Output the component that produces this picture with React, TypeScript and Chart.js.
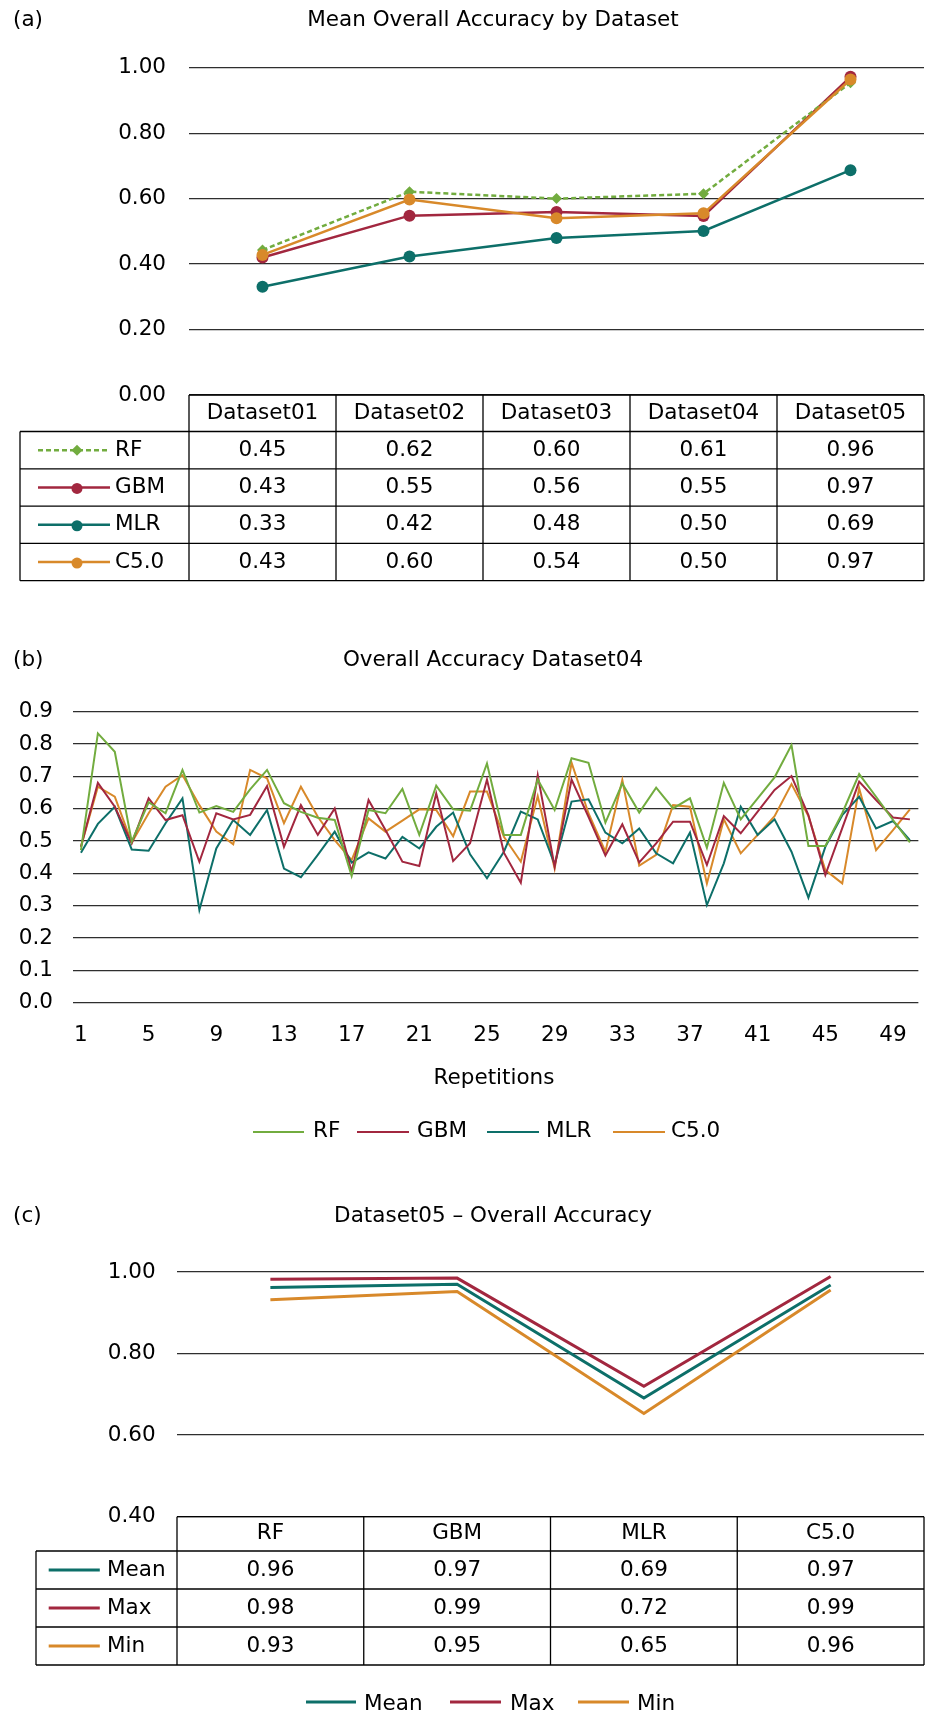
import React, { useEffect, useRef } from 'react';
import { Chart, registerables } from 'chart.js';
Chart.register(...registerables);

const FONT_FAMILY = '"DejaVu Sans", "Noto Sans", sans-serif';
const FS = 21.5;
const C_RF = '#72AC3F';
const C_GBM = '#A2273F';
const C_MLR = '#0D6F69';
const C_C50 = '#D8892A';
const GRID = '#2E2E2E';

// ---------- Panel (a) ----------
const datasetsA = ['Dataset01', 'Dataset02', 'Dataset03', 'Dataset04', 'Dataset05'];
const rfMeanA = [0.443, 0.621, 0.6, 0.615, 0.954];
const gbmMeanA = [0.42, 0.548, 0.559, 0.547, 0.972];
const mlrMeanA = [0.331, 0.423, 0.48, 0.501, 0.687];
const c50MeanA = [0.428, 0.597, 0.54, 0.555, 0.964];
const rfTableA = [0.45, 0.62, 0.6, 0.61, 0.96];
const gbmTableA = [0.43, 0.55, 0.56, 0.55, 0.97];
const mlrTableA = [0.33, 0.42, 0.48, 0.5, 0.69];
const c50TableA = [0.43, 0.6, 0.54, 0.5, 0.97];

// ---------- Panel (b) ----------
const reps = ['1','2','3','4','5','6','7','8','9','10','11','12','13','14','15','16','17','18','19','20','21','22','23','24','25','26','27','28','29','30','31','32','33','34','35','36','37','38','39','40','41','42','43','44','45','46','47','48','49','50'];
const rfRep = [0.472,0.833,0.776,0.498,0.62,0.586,0.72,0.588,0.608,0.59,0.66,0.72,0.617,0.59,0.572,0.565,0.392,0.596,0.586,0.661,0.519,0.671,0.598,0.594,0.74,0.519,0.519,0.69,0.596,0.756,0.742,0.557,0.678,0.588,0.665,0.601,0.632,0.479,0.68,0.567,0.632,0.697,0.797,0.485,0.485,0.586,0.707,0.637,0.565,0.496];
const gbmRep = [0.482,0.68,0.606,0.493,0.632,0.565,0.58,0.436,0.586,0.567,0.581,0.67,0.482,0.611,0.519,0.601,0.405,0.627,0.534,0.436,0.423,0.647,0.438,0.493,0.69,0.464,0.371,0.704,0.421,0.69,0.575,0.455,0.552,0.434,0.493,0.56,0.56,0.426,0.577,0.524,0.591,0.658,0.701,0.58,0.395,0.54,0.684,0.627,0.573,0.567];
const mlrRep = [0.464,0.553,0.606,0.474,0.47,0.555,0.632,0.287,0.477,0.565,0.519,0.596,0.415,0.388,0.457,0.529,0.433,0.465,0.446,0.513,0.477,0.544,0.588,0.459,0.385,0.467,0.591,0.567,0.428,0.622,0.629,0.526,0.493,0.539,0.462,0.431,0.526,0.302,0.431,0.606,0.519,0.567,0.467,0.325,0.482,0.58,0.637,0.539,0.562,0.503];
const c50Rep = [0.482,0.668,0.637,0.495,0.586,0.668,0.704,0.611,0.529,0.49,0.72,0.694,0.555,0.668,0.575,0.503,0.441,0.57,0.529,0.563,0.598,0.596,0.515,0.653,0.653,0.513,0.436,0.639,0.415,0.742,0.586,0.467,0.689,0.424,0.457,0.611,0.606,0.369,0.567,0.462,0.519,0.577,0.676,0.577,0.41,0.369,0.663,0.472,0.534,0.598];

// ---------- Panel (c) ----------
const modelsC = ['RF', 'GBM', 'MLR', 'C5.0'];
const meanC = [0.962, 0.97, 0.691, 0.968];
const maxC = [0.982, 0.985, 0.72, 0.989];
const minC = [0.932, 0.952, 0.653, 0.956];
const meanTableC = [0.96, 0.97, 0.69, 0.97];
const maxTableC = [0.98, 0.99, 0.72, 0.99];
const minTableC = [0.93, 0.95, 0.65, 0.96];

function font(size = FS) {
  return `${size}px ${FONT_FAMILY}`;
}

function text(ctx: CanvasRenderingContext2D, s: string, x: number, y: number, align: CanvasTextAlign = 'center', baseline: CanvasTextBaseline = 'middle') {
  ctx.save();
  ctx.fillStyle = '#000';
  ctx.font = font();
  ctx.textAlign = align;
  ctx.textBaseline = baseline;
  ctx.fillText(s, x, y);
  ctx.restore();
}

function line(ctx: CanvasRenderingContext2D, x1: number, y1: number, x2: number, y2: number, color = '#000', w = 1.3, dash: number[] = []) {
  ctx.save();
  ctx.strokeStyle = color;
  ctx.lineWidth = w;
  ctx.setLineDash(dash);
  ctx.beginPath();
  ctx.moveTo(x1, y1);
  ctx.lineTo(x2, y2);
  ctx.stroke();
  ctx.restore();
}

function circle(ctx: CanvasRenderingContext2D, x: number, y: number, r: number, color: string) {
  ctx.save();
  ctx.fillStyle = color;
  ctx.beginPath();
  ctx.arc(x, y, r, 0, Math.PI * 2);
  ctx.fill();
  ctx.restore();
}

function diamond(ctx: CanvasRenderingContext2D, x: number, y: number, r: number, color: string) {
  ctx.save();
  ctx.fillStyle = color;
  ctx.beginPath();
  ctx.moveTo(x, y - r);
  ctx.lineTo(x + r, y);
  ctx.lineTo(x, y + r);
  ctx.lineTo(x - r, y);
  ctx.closePath();
  ctx.fill();
  ctx.restore();
}

const baseTicks = { color: '#000', font: { family: FONT_FAMILY, size: FS } };

function ChartA() {
  const ref = useRef<HTMLCanvasElement>(null);
  useEffect(() => {
    const tablePlugin = {
      id: 'tableA',
      afterDraw(chart: any) {
        const ctx = chart.ctx as CanvasRenderingContext2D;
        const ca = chart.chartArea;
        const xs = chart.scales.x;
        text(ctx, '(a)', 13, 26, 'left', 'alphabetic');
        text(ctx, 'Mean Overall Accuracy by Dataset', 493, 26, 'center', 'alphabetic');
        const n = datasetsA.length;
        const colW = (ca.right - ca.left) / n;
        const top = ca.bottom;
        const headH = 36.5;
        const rowH = 37.3;
        const labelLeft = 20;
        const rows = [
          { name: 'RF', vals: rfTableA, color: C_RF, dash: [5, 3], marker: 'diamond' },
          { name: 'GBM', vals: gbmTableA, color: C_GBM, dash: [], marker: 'circle' },
          { name: 'MLR', vals: mlrTableA, color: C_MLR, dash: [], marker: 'circle' },
          { name: 'C5.0', vals: c50TableA, color: C_C50, dash: [], marker: 'circle' },
        ];
        const bottom = top + headH + rows.length * rowH;
        line(ctx, ca.left, top, ca.right, top);
        for (let r = 0; r <= rows.length; r++) {
          const y = top + headH + r * rowH;
          line(ctx, labelLeft, y, ca.right, y);
        }
        for (let i = 0; i <= n; i++) {
          const x = ca.left + i * colW;
          line(ctx, x, top, x, bottom);
        }
        line(ctx, labelLeft, top + headH, labelLeft, bottom);
        for (let i = 0; i < n; i++) {
          text(ctx, datasetsA[i], xs.getPixelForValue(i), top + headH / 2);
        }
        rows.forEach((row, r) => {
          const cy = top + headH + r * rowH + rowH / 2;
          line(ctx, 38, cy, 110, cy, row.color, 2.5, row.dash);
          if (row.marker === 'diamond') diamond(ctx, 77, cy, 5.5, row.color);
          else circle(ctx, 77, cy + 1, 5.5, row.color);
          text(ctx, row.name, 115, cy, 'left');
          row.vals.forEach((v, i) => {
            text(ctx, v.toFixed(2), xs.getPixelForValue(i), cy);
          });
        });
      },
    };
    const mk = (label: string, data: number[], color: string, dash: number[], style: string, r: number, order: number) => ({
      label,
      data,
      order,
      borderColor: color,
      backgroundColor: color,
      borderWidth: 2.5,
      borderDash: dash,
      pointStyle: style,
      pointRadius: r,
      pointBorderWidth: 0,
      pointBackgroundColor: color,
      tension: 0,
    });
    const chart = new Chart(ref.current!, {
      type: 'line',
      data: {
        labels: datasetsA,
        datasets: [
          mk('RF', rfMeanA, C_RF, [5, 3], 'rectRot', 5.5, 1),
          mk('GBM', gbmMeanA, C_GBM, [], 'circle', 6, 2),
          mk('MLR', mlrMeanA, C_MLR, [], 'circle', 6, 3),
          mk('C5.0', c50MeanA, C_C50, [], 'circle', 6, 0),
        ] as any,
      },
      options: {
        responsive: false,
        animation: false,
        devicePixelRatio: 1,
        layout: { padding: { left: 0, top: 67.7, right: 1, bottom: 195 } },
        plugins: { legend: { display: false }, title: { display: false }, tooltip: { enabled: false } },
        scales: {
          x: { type: 'category', display: false, offset: true },
          y: {
            min: 0,
            max: 1,
            ticks: { ...baseTicks, stepSize: 0.2, padding: 23, callback: (v: any) => Number(v).toFixed(2) },
            grid: { color: GRID, lineWidth: 1.3, drawTicks: false },
            border: { display: false },
            afterFit: (s: any) => { s.width = 189; },
          },
        },
      } as any,
      plugins: [tablePlugin],
    });
    return () => chart.destroy();
  }, []);
  return <canvas ref={ref} width={930} height={590} style={{ position: 'absolute', left: 0, top: 0, display: 'block' }} />;
}

function ChartB() {
  const ref = useRef<HTMLCanvasElement>(null);
  useEffect(() => {
    const extra = {
      id: 'extraB',
      afterDraw(chart: any) {
        const ctx = chart.ctx as CanvasRenderingContext2D;
        text(ctx, '(b)', 13, 76, 'left', 'alphabetic');
        text(ctx, 'Overall Accuracy Dataset04', 493, 76, 'center', 'alphabetic');
        text(ctx, 'Repetitions', 494, 488);
        const items = [
          { name: 'RF', color: C_RF, x1: 253, x2: 304, tx: 313 },
          { name: 'GBM', color: C_GBM, x1: 357, x2: 409, tx: 417 },
          { name: 'MLR', color: C_MLR, x1: 487, x2: 539, tx: 546 },
          { name: 'C5.0', color: C_C50, x1: 613, x2: 665, tx: 671 },
        ];
        items.forEach((it) => {
          line(ctx, it.x1, 542, it.x2, 542, it.color, 2);
          text(ctx, it.name, it.tx, 541, 'left');
        });
      },
    };
    const mk = (label: string, data: number[], color: string) => ({
      label,
      data,
      borderColor: color,
      backgroundColor: color,
      borderWidth: 2,
      pointRadius: 0,
      tension: 0,
    });
    const chart = new Chart(ref.current!, {
      type: 'line',
      data: {
        labels: reps,
        datasets: [
          mk('RF', rfRep, C_RF),
          mk('GBM', gbmRep, C_GBM),
          mk('MLR', mlrRep, C_MLR),
          mk('C5.0', c50Rep, C_C50),
        ],
      },
      options: {
        responsive: false,
        animation: false,
        devicePixelRatio: 1,
        layout: { padding: { left: 0, top: 121.7, right: 9, bottom: 97.3 } },
        plugins: { legend: { display: false }, title: { display: false }, tooltip: { enabled: false } },
        scales: {
          x: {
            type: 'category',
            offset: true,
            grid: { display: false, drawTicks: false },
            border: { display: false },
            ticks: {
              ...baseTicks,
              autoSkip: false,
              maxRotation: 0,
              minRotation: 0,
              padding: 20,
              callback: (_v: any, i: number) => (i % 4 === 0 ? reps[i] : ''),
            },
            afterFit: (s: any) => { s.height = 60; },
          },
          y: {
            min: 0,
            max: 0.9,
            ticks: { ...baseTicks, stepSize: 0.1, padding: 19.5, callback: (v: any) => Number(v).toFixed(1) },
            grid: { color: GRID, lineWidth: 1.3, drawTicks: false },
            border: { display: false },
            afterFit: (s: any) => { s.width = 72.5; },
          },
        },
      } as any,
      plugins: [extra],
    });
    return () => chart.destroy();
  }, []);
  return <canvas ref={ref} width={930} height={570} style={{ position: 'absolute', left: 0, top: 590, display: 'block' }} />;
}

function ChartC() {
  const ref = useRef<HTMLCanvasElement>(null);
  useEffect(() => {
    const tablePlugin = {
      id: 'tableC',
      afterDraw(chart: any) {
        const ctx = chart.ctx as CanvasRenderingContext2D;
        const ca = chart.chartArea;
        const xs = chart.scales.x;
        text(ctx, '(c)', 13, 62, 'left', 'alphabetic');
        text(ctx, 'Dataset05 \u2013 Overall Accuracy', 493, 62, 'center', 'alphabetic');
        const n = modelsC.length;
        const colW = (ca.right - ca.left) / n;
        const top = ca.bottom;
        const headH = 34.3;
        const rowH = 38;
        const labelLeft = 36;
        const rows = [
          { name: 'Mean', vals: meanTableC, color: C_MLR },
          { name: 'Max', vals: maxTableC, color: C_GBM },
          { name: 'Min', vals: minTableC, color: C_C50 },
        ];
        const bottom = top + headH + rows.length * rowH;
        line(ctx, ca.left, top, ca.right, top);
        for (let r = 0; r <= rows.length; r++) {
          const y = top + headH + r * rowH;
          line(ctx, labelLeft, y, ca.right, y);
        }
        for (let i = 0; i <= n; i++) {
          const x = ca.left + i * colW;
          line(ctx, x, top, x, bottom);
        }
        line(ctx, labelLeft, top + headH, labelLeft, bottom);
        for (let i = 0; i < n; i++) {
          text(ctx, modelsC[i], xs.getPixelForValue(i), top + headH / 2);
        }
        rows.forEach((row, r) => {
          const cy = top + headH + r * rowH + rowH / 2;
          line(ctx, 48.7, cy, 99.8, cy, row.color, 3);
          text(ctx, row.name, 107, cy, 'left');
          row.vals.forEach((v, i) => {
            text(ctx, v.toFixed(2), xs.getPixelForValue(i), cy);
          });
        });
        const leg = [
          { name: 'Mean', color: C_MLR, x1: 306, x2: 356, tx: 364 },
          { name: 'Max', color: C_GBM, x1: 450, x2: 501, tx: 510 },
          { name: 'Min', color: C_C50, x1: 578, x2: 629, tx: 637 },
        ];
        leg.forEach((it) => {
          line(ctx, it.x1, 542, it.x2, 542, it.color, 3);
          text(ctx, it.name, it.tx, 544, 'left');
        });
      },
    };
    const mk = (label: string, data: number[], color: string) => ({
      label,
      data,
      borderColor: color,
      backgroundColor: color,
      borderWidth: 3,
      pointRadius: 0,
      tension: 0,
    });
    const chart = new Chart(ref.current!, {
      type: 'line',
      data: {
        labels: modelsC,
        datasets: [mk('Mean', meanC, C_MLR), mk('Max', maxC, C_GBM), mk('Min', minC, C_C50)],
      },
      options: {
        responsive: false,
        animation: false,
        devicePixelRatio: 1,
        layout: { padding: { left: 0, top: 112, right: 6, bottom: 198.3 } },
        plugins: { legend: { display: false }, title: { display: false }, tooltip: { enabled: false } },
        scales: {
          x: { type: 'category', display: false, offset: true },
          y: {
            min: 0.4,
            max: 1,
            ticks: { ...baseTicks, stepSize: 0.2, padding: 21.3, callback: (v: any) => Number(v).toFixed(2) },
            grid: { color: GRID, lineWidth: 1.3, drawTicks: false },
            border: { display: false },
            afterFit: (s: any) => { s.width = 177; },
          },
        },
      } as any,
      plugins: [tablePlugin],
    });
    return () => chart.destroy();
  }, []);
  return <canvas ref={ref} width={930} height={555} style={{ position: 'absolute', left: 0, top: 1160, display: 'block' }} />;
}

export default function App() {
  return (
    <div style={{ position: 'absolute', left: 0, top: 0, width: 930, height: 1715, background: '#fff', overflow: 'hidden' }}>
      <ChartA />
      <ChartB />
      <ChartC />
    </div>
  );
}
